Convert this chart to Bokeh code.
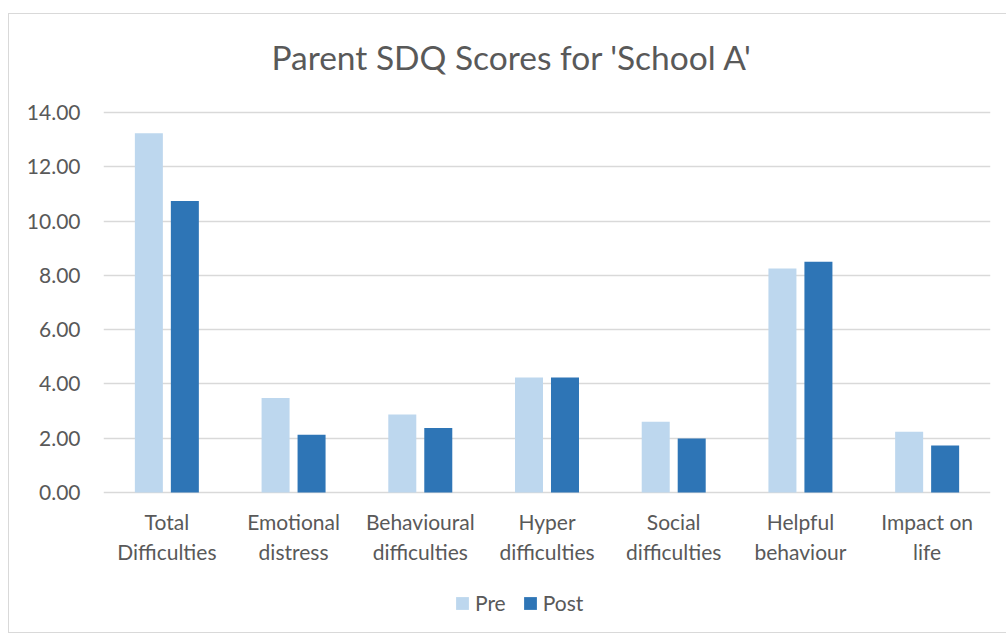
from bokeh.plotting import figure
from bokeh.models import ColumnDataSource, Legend, LegendItem, Label, CustomJSTickFormatter
from bokeh.core.properties import value
from bokeh.transform import dodge
from bokeh.embed import file_html
from bokeh.resources import INLINE

title_text = "Parent SDQ Scores for 'School A'"
categories = ["Total\nDifficulties", "Emotional\ndistress", "Behavioural\ndifficulties",
              "Hyper\ndifficulties", "Social\ndifficulties", "Helpful\nbehaviour", "Impact on\nlife"]
pre = [13.24, 3.48, 2.87, 4.24, 2.61, 8.25, 2.24]
post = [10.74, 2.13, 2.38, 4.24, 1.99, 8.50, 1.73]
y_ticks = [0, 2, 4, 6, 8, 10, 12, 14]

FONT = "Lato"
TXT = "#595959"
GRID = "#D9D9D9"

# bar area is 380px for 0..14; extra room below zero holds labels and legend, above holds title
BAR_PX = 380
BELOW_PX = 135
ABOVE_PX = 78
y_max = max(y_ticks)
y_start = -y_max * BELOW_PX / BAR_PX
y_end = y_max + y_max * ABOVE_PX / BAR_PX
FRAME_H = BAR_PX + BELOW_PX + ABOVE_PX

src = ColumnDataSource(dict(cat=categories, pre=pre, post=post,
                            zero=[0] * len(categories)))

p = figure(x_range=categories, y_range=(y_start, y_end),
           frame_width=887, frame_height=FRAME_H,
           output_backend="svg", toolbar_location=None,
           min_border_left=94, min_border_right=16, min_border_top=20, min_border_bottom=5)
p.margin = (14, 0, 0, 9)
p.styles = {"outline": "1px solid #D9D9D9"}

p.outline_line_color = None
p.background_fill_color = "white"
p.border_fill_color = "white"

r1 = p.vbar(x=dodge("cat", -0.142, range=p.x_range), top="pre", width=0.221, source=src,
            fill_color="#BDD7EE", line_color=None)
r2 = p.vbar(x=dodge("cat", 0.142, range=p.x_range), top="post", width=0.221, source=src,
            fill_color="#2E75B6", line_color=None)

# category labels beneath the zero line
p.text(x="cat", y="zero", text="cat", source=src, text_align="center", text_baseline="top",
       y_offset=16, text_font=value(FONT), text_font_size=value("21px"), text_color=TXT)

# chart title
p.add_layout(Label(x=408.5, y=FRAME_H - 22, x_units="screen", y_units="screen",
                   text=title_text, text_align="center", text_baseline="alphabetic",
                   text_font=FONT, text_font_size="33.5px", text_color=TXT))

p.xaxis.visible = False
p.xgrid.grid_line_color = None
p.ygrid.grid_line_color = GRID
p.ygrid.grid_line_width = 1.3
p.ygrid.ticker = y_ticks
p.yaxis.ticker = y_ticks
p.yaxis.formatter = CustomJSTickFormatter(code="return tick.toFixed(2)")
p.yaxis.axis_line_color = None
p.yaxis.major_tick_line_color = None
p.yaxis.minor_tick_line_color = None
p.yaxis.major_label_text_font = FONT
p.yaxis.major_label_text_font_size = "21px"
p.yaxis.major_label_text_color = TXT
p.yaxis.major_label_standoff = 17

legend = Legend(items=[LegendItem(label="Pre", renderers=[r1]), LegendItem(label="Post", renderers=[r2])],
                orientation="horizontal", location=(351, 12),
                label_text_font=FONT, label_text_font_size="21px", label_text_color=TXT,
                glyph_width=16, glyph_height=16, label_standoff=5, spacing=16,
                border_line_color=None, background_fill_color=None, padding=0, margin=0)
p.add_layout(legend, "center")

open("out.html", "w").write(file_html(p, INLINE))
